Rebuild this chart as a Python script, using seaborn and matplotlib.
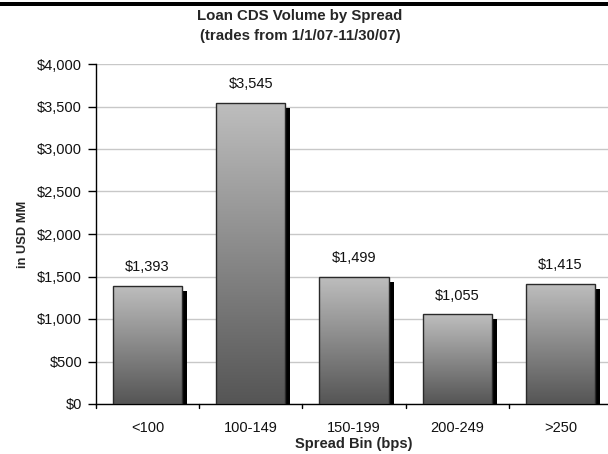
import numpy as np
import pandas as pd
import matplotlib
matplotlib.use("Agg")
import matplotlib.pyplot as plt
import matplotlib.transforms as mtransforms
from matplotlib.patches import Rectangle
from matplotlib.colors import LinearSegmentedColormap
import seaborn as sns

# Loan CDS traded volume per spread bin, USD millions
spread_bins = ["<100", "100-149", "150-199", "200-249", ">250"]
volume_usd_mm = [1393, 3545, 1499, 1055, 1415]
y_ticks = [0, 500, 1000, 1500, 2000, 2500, 3000, 3500, 4000]

sns.set_theme(style="white")
plt.rcParams["font.family"] = ["Liberation Sans", "DejaVu Sans"]

FS = 10.5

df = pd.DataFrame({"bin": spread_bins, "volume": volume_usd_mm})

fig = plt.figure(figsize=(6.08, 4.54), dpi=100)
ax = fig.add_axes([96 / 608, 50 / 454, 516 / 608, 340 / 454])

sns.barplot(data=df, x="bin", y="volume", order=spread_bins, ax=ax,
            width=0.67, color="#888888", edgecolor="#2a2a2a", linewidth=1.0,
            zorder=3)

ax.set_ylim(0, 4000)
ax.set_xlim(-0.5, len(spread_bins) - 0.5)
ax.set_yticks(y_ticks)
ax.set_yticklabels([f"${v:,}" for v in y_ticks], fontsize=FS)
ax.yaxis.grid(True, color="#c8c8c8", linewidth=1.0, zorder=0)
ax.xaxis.grid(False)
ax.set_axisbelow(True)

# light-to-dark vertical gradient for each bar
grad_cmap = LinearSegmentedColormap.from_list("bar", ["#555555", "#bebebe"])
gradient = np.linspace(0, 1, 256).reshape(-1, 1)
shadow_offset = mtransforms.ScaledTranslation(5 / 100, -5 / 100, fig.dpi_scale_trans)

for patch, val in zip(ax.patches, volume_usd_mm):
    x0, w = patch.get_x(), patch.get_width()
    patch.set_facecolor("none")
    img = ax.imshow(gradient, cmap=grad_cmap, aspect="auto", origin="lower",
                    extent=[x0, x0 + w, 0, val], zorder=2.9,
                    interpolation="bicubic")
    img.set_clip_path(patch)
    shadow = Rectangle((x0, 0), w, val, facecolor="black", edgecolor="none",
                       transform=ax.transData + shadow_offset, zorder=2.5,
                       clip_on=True)
    ax.add_patch(shadow)
    ax.annotate(f"${val:,}", xy=(x0 + w / 2, val), xytext=(0, 13.5),
                textcoords="offset points", ha="center", va="center",
                fontsize=FS, color="#111111", zorder=5)

ax.set_xlim(-0.5, len(spread_bins) - 0.5)
ax.set_ylim(0, 4000)

# category tick marks at the bin boundaries
ax.set_xticks(np.arange(len(spread_bins)))
ax.set_xticklabels(spread_bins, fontsize=FS)
ax.tick_params(axis="x", length=0, pad=12.5, colors="#111111")
for b in np.arange(-0.5, len(spread_bins)):
    ax.plot([b, b], [0, -0.013], transform=ax.get_xaxis_transform(),
            color="black", linewidth=1.0, clip_on=False)
ax.tick_params(axis="y", left=True, length=6, width=1.0, color="black",
               pad=4, colors="#111111")

for side in ("top", "right"):
    ax.spines[side].set_visible(False)
for side in ("left", "bottom"):
    ax.spines[side].set_color("black")
    ax.spines[side].set_linewidth(1.0)

ax.set_xlabel("Spread Bin (bps)", fontsize=FS, fontweight="bold", labelpad=1.5)
ax.set_ylabel("in USD MM", fontsize=9.3, fontweight="bold", labelpad=6)

fig.text(300 / 608, 1 - 16 / 454, "Loan CDS Volume by Spread", ha="center",
         va="center", fontsize=10.8, fontweight="bold")
fig.text(300 / 608, 1 - 36 / 454, "(trades from 1/1/07-11/30/07)", ha="center",
         va="center", fontsize=10.8, fontweight="bold")

# header rule across the top of the page
fig.add_artist(Rectangle((0, 1 - 6 / 454), 1, 4 / 454, transform=fig.transFigure,
                         facecolor="black", edgecolor="none"))

fig.savefig("out.png", dpi=100)
